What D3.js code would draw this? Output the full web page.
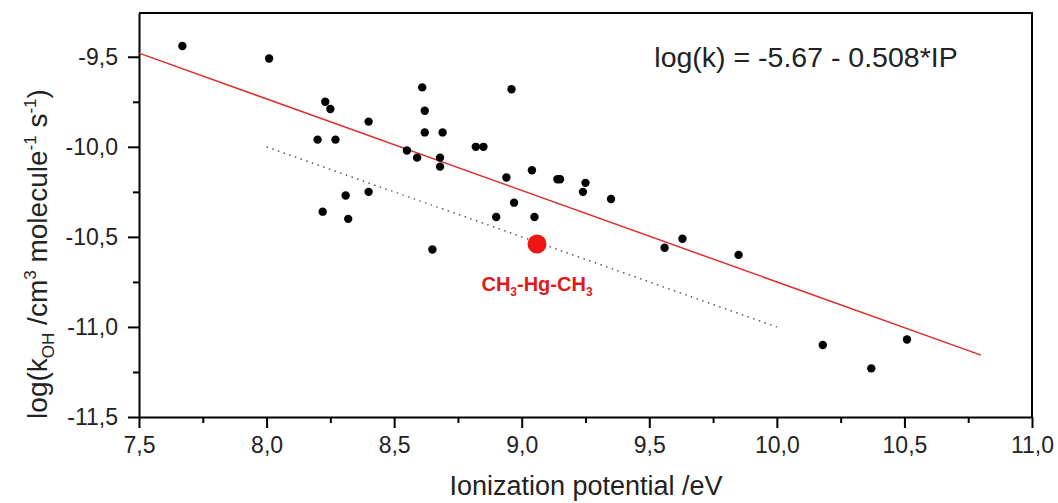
<!DOCTYPE html>
<html>
<head>
<meta charset="utf-8">
<script src="https://cdn.jsdelivr.net/npm/d3@7"></script>
<style>
  body { margin: 0; background: white; }
  text { font-family: "Liberation Sans", Arial, sans-serif; }
</style>
</head>
<body>
<div id="plot"></div>
<script>
// ionization potential (eV) and log(kOH)
const ipValues = [7.67, 8.01, 8.61, 8.96, 8.23, 8.25, 8.40, 8.62, 8.20, 8.27,
                  8.62, 8.69, 8.82, 8.85, 8.55, 8.59, 8.68, 8.68, 8.94, 9.04,
                  9.14, 9.15, 9.25, 9.24, 9.35, 8.97, 8.31, 8.40, 8.22, 8.32,
                  8.90, 9.05, 9.63, 9.56, 8.65, 9.85, 10.18, 10.37, 10.51];
const logK = [-9.44, -9.51, -9.67, -9.68, -9.75, -9.79, -9.86, -9.80, -9.96, -9.96,
              -9.92, -9.92, -10.00, -10.00, -10.02, -10.06, -10.06, -10.11, -10.17, -10.13,
              -10.18, -10.18, -10.20, -10.25, -10.29, -10.31, -10.27, -10.25, -10.36, -10.40,
              -10.39, -10.39, -10.51, -10.56, -10.57, -10.60, -11.10, -11.23, -11.07];

// dimethylmercury point
const hgPoint = { ip: 9.06, logk: -10.54, label: "CH3-Hg-CH3" };

// fit log(k) = -5.67 - 0.508*IP, drawn from 7.5 to 10.8
const fitIntercept = -5.67, fitSlope = -0.508;
const fitRange = [7.5, 10.8];
// dotted guide line
const guideX = [8.0, 10.0];
const guideY = [-10.0, -11.0];

const xTicks = [7.5, 8.0, 8.5, 9.0, 9.5, 10.0, 10.5, 11.0];
const yTicks = [-9.5, -10.0, -10.5, -11.0, -11.5];

let width = 1058, height = 503;
let margin = { top: 13, right: 26, bottom: 86, left: 139 };

let svg = d3.select('#plot')
            .append('svg')
            .attr('width', width)
            .attr('height', height)
            .style('background', 'white');

const x = d3.scaleLinear()
            .domain([7.5, 11.0])
            .range([margin.left, width - margin.right]);

const y = d3.scaleLinear()
            .domain([-11.5, -9.257])
            .range([height - margin.bottom, margin.top]);

const fmt = d => d.toFixed(1).replace(".", ",");

// minor ticks
const xMinor = d3.range(7.75, 11.0, 0.5);
const yMinor = d3.range(-11.25, -9.3, 0.5);

svg.append('g')
   .attr('transform', `translate(0, ${height - margin.bottom})`)
   .call(d3.axisBottom(x).tickValues(xMinor).tickSize(6).tickFormat(''))
   .call(g => g.select('.domain').remove())
   .selectAll('line').attr('stroke-width', 2);

svg.append('g')
   .attr('transform', `translate(${margin.left}, 0)`)
   .call(d3.axisLeft(y).tickValues(yMinor).tickSize(6).tickFormat(''))
   .call(g => g.select('.domain').remove())
   .selectAll('line').attr('stroke-width', 2);

// major axes
let xaxis = svg.append('g')
   .attr('transform', `translate(0, ${height - margin.bottom})`)
   .call(d3.axisBottom(x).tickValues(xTicks).tickSize(11).tickSizeOuter(0).tickPadding(9).tickFormat(fmt));
xaxis.select('.domain').attr('stroke-width', 2);
xaxis.selectAll('line').attr('stroke-width', 2);
xaxis.selectAll('text')
     .attr('font-size', 23)
     .attr('fill', '#222')
     .style('font-family', '"Liberation Sans", Arial, sans-serif');

let yaxis = svg.append('g')
   .attr('transform', `translate(${margin.left}, 0)`)
   .call(d3.axisLeft(y).tickValues(yTicks).tickSize(11).tickSizeOuter(0).tickPadding(10).tickFormat(fmt));
yaxis.select('.domain').attr('stroke-width', 2);
yaxis.selectAll('line').attr('stroke-width', 2);
yaxis.selectAll('text')
     .attr('font-size', 23)
     .attr('fill', '#222')
     .style('font-family', '"Liberation Sans", Arial, sans-serif');

// top and right frame
svg.append('path')
   .attr('d', `M${x(7.5)},${y.range()[1]}H${x(11.0)}V${y(-11.5)}`)
   .attr('fill', 'none')
   .attr('stroke', 'black')
   .attr('stroke-width', 2);

// fit line
svg.append('line')
   .attr('x1', x(fitRange[0]))
   .attr('y1', y(fitIntercept + fitSlope * fitRange[0]))
   .attr('x2', x(fitRange[1]))
   .attr('y2', y(fitIntercept + fitSlope * fitRange[1]))
   .attr('stroke', '#d9302c')
   .attr('stroke-width', 1.5);

// dotted line
svg.append('line')
   .attr('x1', x(guideX[0]))
   .attr('y1', y(guideY[0]))
   .attr('x2', x(guideX[1]))
   .attr('y2', y(guideY[1]))
   .attr('stroke', '#444')
   .attr('stroke-width', 1.3)
   .attr('stroke-dasharray', '1.5,4.5');

// data points
svg.selectAll('circle.pt')
   .data(ipValues.map((v, i) => ({ ip: v, logk: logK[i] })))
   .enter()
   .append('circle')
   .attr('class', 'pt')
   .attr('cx', d => x(d.ip))
   .attr('cy', d => y(d.logk))
   .attr('r', 4.2)
   .attr('fill', 'black');

svg.append('circle')
   .attr('cx', x(hgPoint.ip))
   .attr('cy', y(hgPoint.logk))
   .attr('r', 9.5)
   .attr('fill', '#f01515');

// label CH3-Hg-CH3
let lab = svg.append('text')
   .attr('x', x(hgPoint.ip))
   .attr('y', y(hgPoint.logk) + 47)
   .attr('text-anchor', 'middle')
   .attr('font-size', 20)
   .attr('font-weight', 'bold')
   .attr('fill', '#e01a1a');
lab.append('tspan').text('CH');
lab.append('tspan').attr('font-size', 12).attr('dy', 5).text('3');
lab.append('tspan').attr('dy', -5).text('-Hg-CH');
lab.append('tspan').attr('font-size', 12).attr('dy', 5).text('3');

// equation
svg.append('text')
   .attr('x', 806)
   .attr('y', 67)
   .attr('text-anchor', 'middle')
   .attr('font-size', 28.5)
   .attr('fill', '#222')
   .text('log(k) = -5.67 - 0.508*IP');

// x axis title
svg.append('text')
   .attr('x', 586)
   .attr('y', 495)
   .attr('text-anchor', 'middle')
   .attr('font-size', 27)
   .attr('fill', '#222')
   .text('Ionization potential /eV');

// y axis title
let yt = svg.append('text')
   .attr('transform', `translate(47, 254) rotate(-90)`)
   .attr('text-anchor', 'middle')
   .attr('font-size', 28)
   .attr('fill', '#222');
yt.append('tspan').text('log(k');
yt.append('tspan').attr('font-size', 17).attr('dy', 7).text('OH');
yt.append('tspan').attr('dy', -7).text(' /cm');
yt.append('tspan').attr('font-size', 17).attr('dy', -11).text('3');
yt.append('tspan').attr('dy', 11).text(' molecule');
yt.append('tspan').attr('font-size', 17).attr('dy', -11).text('-1');
yt.append('tspan').attr('dy', 11).text(' s');
yt.append('tspan').attr('font-size', 17).attr('dy', -11).text('-1');
yt.append('tspan').attr('dy', 11).text(')');
</script>
</body>
</html>
